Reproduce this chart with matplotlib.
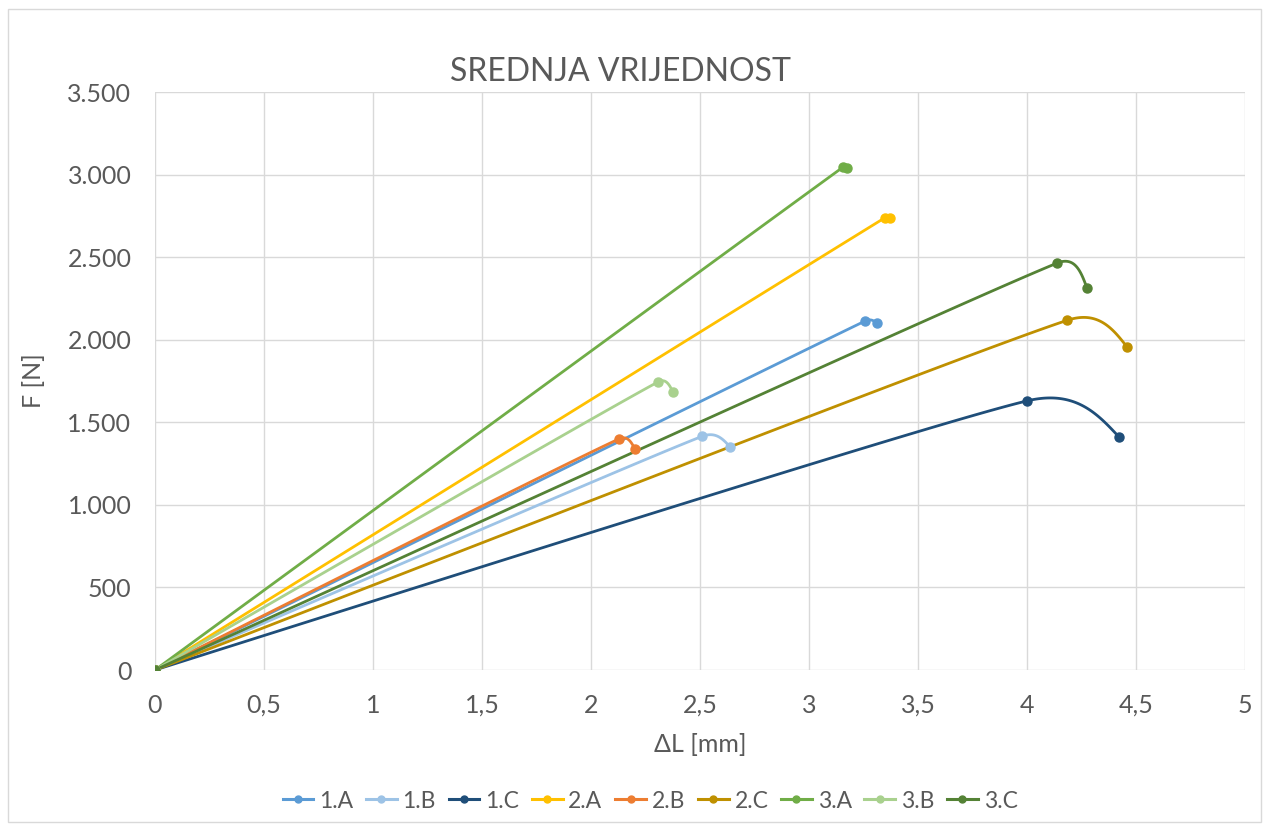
import numpy as np
import matplotlib
matplotlib.use("Agg")
import matplotlib.pyplot as plt
from matplotlib.ticker import FuncFormatter, MultipleLocator
from matplotlib.patches import Rectangle

plt.rcParams['font.family'] = ['Lato', 'DejaVu Sans']

# series: (0,0) -> max force -> break point
labels = ["1.A", "1.B", "1.C", "2.A", "2.B", "2.C", "3.A", "3.B", "3.C"]
dl = [
    [0, 3.257, 3.312],
    [0, 2.508, 2.638],
    [0, 3.998, 4.422],
    [0, 3.350, 3.373],
    [0, 2.128, 2.202],
    [0, 4.183, 4.459],
    [0, 3.156, 3.174],
    [0, 2.307, 2.376],
    [0, 4.138, 4.275],
]
force = [
    [0, 2113, 2101],
    [0, 1414, 1350],
    [0, 1629, 1411],
    [0, 2740, 2737],
    [0, 1399, 1336],
    [0, 2117, 1956],
    [0, 3045, 3040],
    [0, 1744, 1683],
    [0, 2464, 2313],
]
colors = ["#5B9BD5", "#9DC3E6", "#1F4E79", "#FFC000", "#ED7D31",
          "#BF9000", "#70AD47", "#A9D18E", "#548235"]


def hermite(p0, p1, m0, m1, n=60):
    t = np.linspace(0, 1, n)[:, None]
    h00 = 2 * t**3 - 3 * t**2 + 1
    h10 = t**3 - 2 * t**2 + t
    h01 = -2 * t**3 + 3 * t**2
    h11 = t**3 - t**2
    return h00 * p0 + h10 * m0 + h01 * p1 + h11 * m1


def smooth(xs, ys, k=(0.3, 1.5)):
    # piecewise hermite curve, tangent at the middle point along the outer chord,
    # natural end conditions at both ends
    p = np.column_stack([xs, ys]).astype(float)
    d = (p[2] - p[0]) / np.linalg.norm(p[2] - p[0])
    segs = []
    for i in range(2):
        a, b = p[i], p[i + 1]
        L = np.linalg.norm(b - a)
        chord = b - a
        if i == 0:
            m1 = d * L * k[0]
            m0 = 1.5 * chord - 0.5 * m1
        else:
            m0 = d * L * k[1]
            m1 = 1.5 * chord - 0.5 * m0
        segs.append(hermite(a, b, m0, m1))
    out = np.vstack(segs)
    return out[:, 0], out[:, 1]


fig = plt.figure(figsize=(12.69, 8.30), dpi=100)
ax = fig.add_axes([155 / 1269, 1 - 670 / 830, 1090 / 1269, 578 / 830])

# smooth in display-proportional units so the curve shape follows the screen
sx, sy = 218.0, 578 / 3500
for lab, x, y, c in zip(labels, dl, force, colors):
    px, py = smooth(np.array(x) * sx, np.array(y) * sy)
    ax.plot(px / sx, py / sy, color=c, lw=2, solid_capstyle='round', zorder=3)
    ax.plot(x, y, 'o', color=c, ms=6.5, zorder=4)
    ax.plot([], [], '-o', color=c, lw=2.2, ms=5, label=lab)

ax.set_xlim(0, 5)
ax.set_ylim(0, 3500)
ax.xaxis.set_major_locator(MultipleLocator(0.5))
ax.yaxis.set_major_locator(MultipleLocator(500))
ax.xaxis.set_major_formatter(FuncFormatter(lambda v, p: f"{v:g}".replace(".", ",")))
ax.yaxis.set_major_formatter(FuncFormatter(lambda v, p: f"{int(v):,}".replace(",", ".")))
ax.grid(True, color="#D9D9D9", lw=1)
ax.set_axisbelow(True)
for s in ax.spines.values():
    s.set_visible(False)
ax.tick_params(length=0, labelsize=18, labelcolor="#595959", pad=17)

ax.set_xlabel("ΔL [mm]", fontsize=18, color="#595959", labelpad=12)
ax.set_ylabel("F [N]", fontsize=18, color="#595959", labelpad=16)
fig.text(621 / 1269, 1 - 72 / 830, "SREDNJA VRIJEDNOST", ha="center", va="center",
         fontsize=23, color="#595959")

fig.legend(loc="center", bbox_to_anchor=(650 / 1269, 1 - 801 / 830), ncol=9,
           frameon=False, fontsize=16.5, handlelength=1.35, handletextpad=0.25,
           columnspacing=0.55, labelcolor="#595959")

fig.patches.append(Rectangle((8 / 1269, 8 / 830), 1253 / 1269, 813 / 830,
                             transform=fig.transFigure, fill=False,
                             edgecolor="#D9D9D9", lw=1))

fig.savefig("out.png", dpi=100)
